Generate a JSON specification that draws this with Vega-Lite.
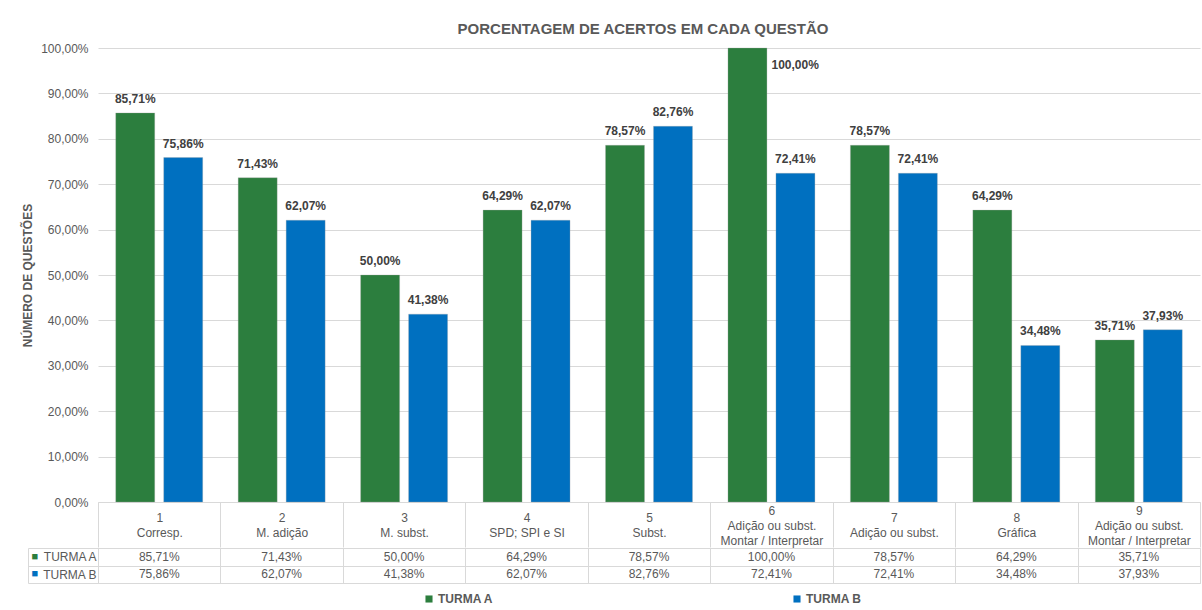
{
  "$schema": "https://vega.github.io/schema/vega-lite/v6.json",
  "background": "white",
  "padding": {"left": 21, "top": 22, "right": 4, "bottom": 5},
  "spacing": -9,
  "config": {
    "locale": {"number": {"decimal": ",", "thousands": ".", "grouping": [3], "currency": ["R$", ""]}},
    "font": "Liberation Sans",
    "view": {"stroke": null}
  },
  "datasets": {
    "d": [
      {"q": "1|Corresp.", "turma": "TURMA A", "pct": 0.8571},
      {"q": "1|Corresp.", "turma": "TURMA B", "pct": 0.7586},
      {"q": "2|M. adição", "turma": "TURMA A", "pct": 0.7143},
      {"q": "2|M. adição", "turma": "TURMA B", "pct": 0.6207},
      {"q": "3|M. subst.", "turma": "TURMA A", "pct": 0.5},
      {"q": "3|M. subst.", "turma": "TURMA B", "pct": 0.4138},
      {"q": "4|SPD; SPI e SI", "turma": "TURMA A", "pct": 0.6429},
      {"q": "4|SPD; SPI e SI", "turma": "TURMA B", "pct": 0.6207},
      {"q": "5|Subst.", "turma": "TURMA A", "pct": 0.7857},
      {"q": "5|Subst.", "turma": "TURMA B", "pct": 0.8276},
      {"q": "6|Adição ou subst.|Montar / Interpretar", "turma": "TURMA A", "pct": 1.0},
      {"q": "6|Adição ou subst.|Montar / Interpretar", "turma": "TURMA B", "pct": 0.7241},
      {"q": "7|Adição ou subst.", "turma": "TURMA A", "pct": 0.7857},
      {"q": "7|Adição ou subst.", "turma": "TURMA B", "pct": 0.7241},
      {"q": "8|Gráfica", "turma": "TURMA A", "pct": 0.6429},
      {"q": "8|Gráfica", "turma": "TURMA B", "pct": 0.3448},
      {"q": "9|Adição ou subst.|Montar / Interpretar", "turma": "TURMA A", "pct": 0.3571},
      {"q": "9|Adição ou subst.|Montar / Interpretar", "turma": "TURMA B", "pct": 0.3793}
    ]
  },
  "vconcat": [
    {
      "width": 1102,
      "height": 454,
      "title": {"text": "PORCENTAGEM DE ACERTOS EM CADA QUESTÃO", "fontSize": 15, "fontWeight": "bold", "color": "#595959", "offset": 5, "anchor": "middle", "dx": -6},
      "data": {"name": "d"},
      "encoding": {
        "x": {
          "field": "q", "type": "nominal", "sort": null,
          "scale": {"paddingInner": 0, "paddingOuter": 0},
          "axis": {
            "title": null,
            "labelExpr": "isValid(datum.value) ? split(datum.value, '|') : ''",
            "labelAngle": 0,
            "labelFontSize": 12, "labelColor": "#595959", "labelLineHeight": 15,
            "labelBaseline": {"expr": "isValid(datum.value) && length(split(datum.value, '|')) > 2 ? 'middle' : 'line-top'"},
            "labelPadding": -37,
            "tickBand": "extent", "tickSize": 45, "tickColor": "#d9d9d9",
            "domainColor": "#d9d9d9", "labelLimit": 200
          }
        },
        "xOffset": {"field": "turma", "type": "nominal", "scale": {"paddingInner": 0.1875, "paddingOuter": 0.37}},
        "y": {
          "field": "pct", "type": "quantitative",
          "scale": {"domain": [0, 1]},
          "axis": {
            "values": [0, 0.1, 0.2, 0.3, 0.4, 0.5, 0.6, 0.7, 0.8, 0.9, 1.0],
            "format": ".2%", "labelFontSize": 12, "labelColor": "#595959",
            "domain": false, "ticks": false, "labelPadding": 10,
            "gridColor": "#d9d9d9",
            "title": "NÚMERO DE QUESTÕES", "titleFontSize": 12, "titleFontWeight": "bold",
            "titleColor": "#595959", "titlePadding": 6
          }
        }
      },
      "layer": [
        {
          "mark": {"type": "bar", "stroke": "#a6a6a6", "strokeWidth": 0.6, "strokeOpacity": 0.5},
          "encoding": {
            "color": {
              "field": "turma", "type": "nominal",
              "scale": {"domain": ["TURMA A", "TURMA B"], "range": ["#2C7E3E", "#0070C0"]},
              "legend": {
                "title": null, "orient": "none", "legendX": 325, "legendY": 545,
                "direction": "horizontal", "symbolType": "square", "symbolSize": 50,
                "labelFontSize": 12, "labelFontWeight": "bold", "labelColor": "#595959",
                "columnPadding": 297, "symbolStrokeWidth": 0, "labelOffset": 3
              }
            }
          }
        },
        {
          "transform": [{"filter": "datum.pct < 1"}],
          "mark": {"type": "text", "baseline": "bottom", "dy": -7, "fontWeight": "bold", "fontSize": 12, "color": "#404040"},
          "encoding": {"text": {"field": "pct", "type": "quantitative", "format": ".2%"}}
        },
        {
          "transform": [{"filter": "datum.pct >= 1"}],
          "mark": {"type": "text", "align": "left", "baseline": "middle", "dx": 24, "dy": 17, "fontWeight": "bold", "fontSize": 12, "color": "#404040"},
          "encoding": {"text": {"field": "pct", "type": "quantitative", "format": ".2%"}}
        }
      ]
    },
    {
      "width": 1102,
      "height": 35,
      "data": {"name": "d"},
      "view": {"stroke": "#d9d9d9"},
      "encoding": {
        "x": {
          "field": "q", "type": "nominal", "sort": null,
          "scale": {"paddingInner": 0, "paddingOuter": 0},
          "axis": {"title": null, "labels": false, "ticks": false, "domain": false, "grid": true, "gridColor": "#d9d9d9", "tickBand": "extent"}
        },
        "y": {
          "field": "turma", "type": "nominal",
          "scale": {"domain": ["TURMA A", "TURMA B"], "paddingInner": 0, "paddingOuter": 0}
        }
      },
      "layer": [
        {
          "mark": {"type": "text", "fontSize": 12, "color": "#595959"},
          "encoding": {
            "text": {"field": "pct", "type": "quantitative", "format": ".2%"},
            "y": {
              "field": "turma", "type": "nominal",
              "axis": {
                "title": null, "orient": "left", "labelFontSize": 12, "labelColor": "#595959",
                "tickBand": "extent", "tickSize": 70, "tickColor": "#d9d9d9",
                "labelPadding": -68, "domain": false, "grid": true, "gridColor": "#d9d9d9"
              }
            }
          }
        },
        {
          "mark": {"type": "text", "opacity": 0},
          "encoding": {
            "text": {"field": "pct", "type": "quantitative", "format": ".2%"},
            "y": {
              "field": "turma", "type": "nominal",
              "axis": {
                "title": null, "orient": "left", "offset": 70, "ticks": false, "grid": false,
                "domain": true, "domainColor": "#d9d9d9",
                "labelExpr": "'■'", "labelFontSize": 11, "labelAlign": "left", "labelPadding": -3,
                "labelColor": {"expr": "datum.value == 'TURMA A' ? '#2C7E3E' : '#0070C0'"}
              }
            }
          }
        }
      ],
      "resolve": {"axis": {"y": "independent"}}
    }
  ]
}
